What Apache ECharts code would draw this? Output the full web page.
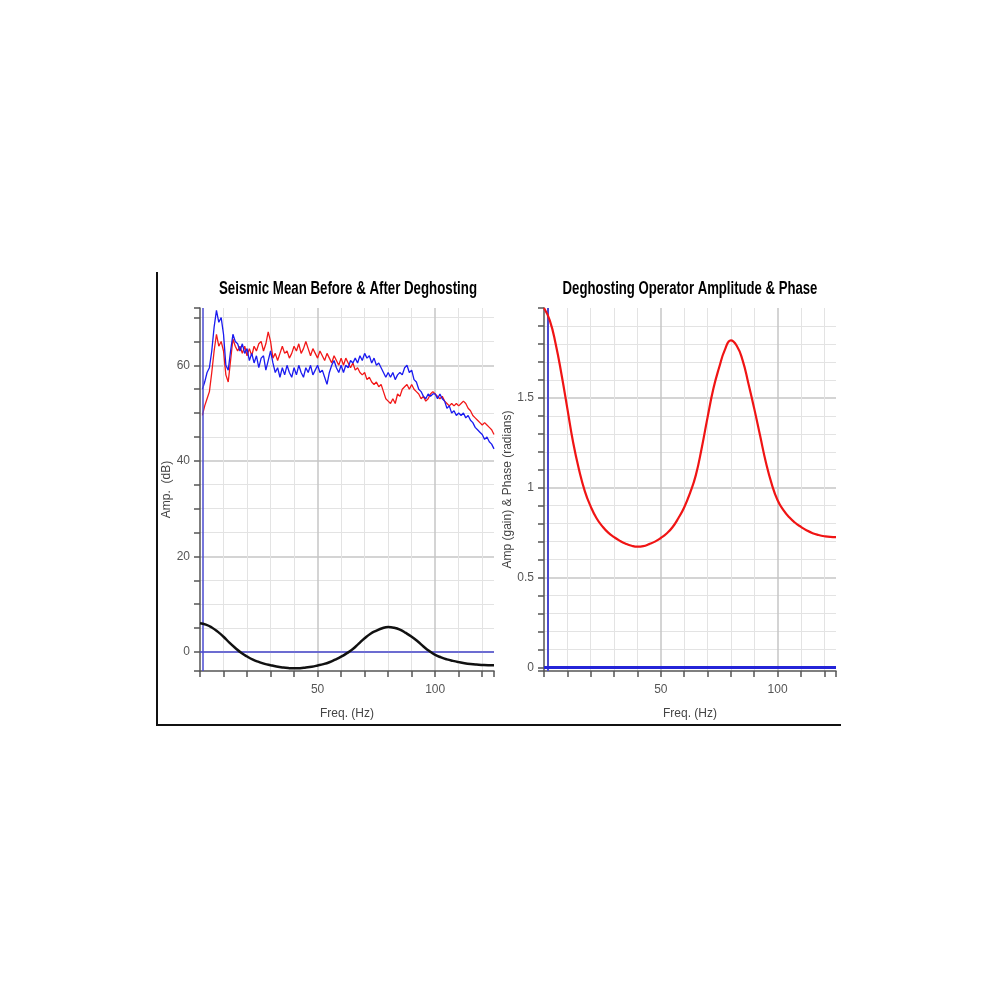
<!DOCTYPE html>
<html><head><meta charset="utf-8">
<script src="https://cdn.jsdelivr.net/npm/echarts@6/dist/echarts.min.js"></script>
<style>html,body{margin:0;padding:0;background:#fff}#c{width:1000px;height:1000px}</style>
</head><body><div id="c"></div>
<script>
// ---- data ----
// noisy spectra: one value per Hz, starting at 1 Hz
const spectrumStartHz = 1;
const redSpectrum = [
 49.5,51.5,53,54.5,58.5,63,66.5,64,65,63,
 58,56.5,61,65.5,64,63,64,62.5,64,62,
 63.5,62,64,63,64.5,65,63,64.5,67,65,
 61.5,62.5,61,62.5,64,62.5,63,61.5,62.5,64,
 63,64.5,62.5,63.5,65,63.5,62,63.5,62.5,61.5,
 63,62,61,62.5,61.5,60.5,62,61,60,61.5,
 60,61.5,60.5,59.5,60.5,59,59.5,58.5,58,58.5,
 57,57.5,56.5,56,56.5,55.5,56,54.5,53,52.5,
 52,53,52,54,53.5,55,55.5,56,55,56,
 55,54.5,54,53,53.5,52.5,53,54,54.5,54,
 53.5,53,53.5,52.5,52,51.5,52,51.5,52,51.5,
 52,52.5,52,51,50.5,49.5,49,48.5,48,47.5,
 48,47.5,47,46.5,45.5
];
const blueSpectrum = [
 55,56.5,58.5,59.5,63,68,71.5,69,70,66.5,
 60,59,63,66.5,65,64.5,63,64.5,62.5,63.5,
 61,62.5,60.5,62,59.5,61.5,62,59,61,63,
 60.5,58.5,59.5,57.5,59.5,58,60,58.5,57.5,59.5,
 58,60,58.5,57.5,59.5,58.5,60,58,59,60,
 58.5,59,57.5,56,58.5,60,61,59.5,58.5,60,
 58.5,60,59.5,61,60.5,61.5,60.5,62,61,62.5,
 61.5,62,60.5,61.5,60,60.5,59.5,58.5,57.5,58.5,
 57.5,58.5,57,58,58.5,58,59.5,60,58.5,59,
 57,56.5,55,54.5,53.5,53,54,53.5,54,54,
 53,54,53,52.5,51,51.5,50,50.5,49.5,50,
 49.5,50,49,49.5,48.5,48,47,46.5,46,45.5,
 44.5,45,44,43.5,42.5
];
// deghosting operator, every 2.5 Hz from 0 to 125
const opFreq = [0,2.5,5,7.5,10,12.5,15,17.5,20,22.5,25,27.5,30,32.5,35,37.5,40,42.5,45,47.5,50,52.5,55,57.5,60,62.5,65,67.5,70,72.5,75,77.5,80,82.5,85,87.5,90,92.5,95,97.5,100,102.5,105,107.5,110,112.5,115,117.5,120,122.5,125];
const opGain = [2.00,1.93,1.80,1.63,1.44,1.25,1.10,0.98,0.895,0.83,0.785,0.75,0.725,0.704,0.688,0.677,0.672,0.675,0.686,0.70,0.72,0.745,0.78,0.83,0.89,0.97,1.07,1.22,1.39,1.55,1.67,1.77,1.82,1.79,1.71,1.58,1.44,1.29,1.14,1.02,0.93,0.875,0.835,0.805,0.782,0.762,0.747,0.737,0.73,0.726,0.725];
const opGainDb = [6.02,5.71,5.11,4.24,3.17,1.94,0.83,-0.18,-0.96,-1.62,-2.10,-2.50,-2.79,-3.05,-3.25,-3.39,-3.45,-3.41,-3.27,-3.10,-2.85,-2.56,-2.16,-1.62,-1.01,-0.26,0.59,1.73,2.86,3.81,4.45,4.96,5.20,5.06,4.66,3.97,3.17,2.21,1.14,0.17,-0.63,-1.16,-1.57,-1.88,-2.14,-2.36,-2.53,-2.65,-2.73,-2.78,-2.79];
// tick labels
const xTickLabels = [50, 100];
const leftYTickLabels = [0, 20, 40, 60];
const rightYTickLabels = [0, 0.5, 1, 1.5];
const leftTitle = 'Seismic Mean Before & After Deghosting';
const rightTitle = 'Deghosting Operator Amplitude & Phase';

// ---- build ----
const toPairs = arr => arr.map((v, i) => [spectrumStartHz + i, v]);
const zip = (xs, ys) => xs.map((x, i) => [x, ys[i]]);

const AX = '#555';
const FONT = '"Liberation Sans", Arial, sans-serif';
function xAxisCfg(gi) {
  return {
    type: 'value', gridIndex: gi, min: 0, max: 125, interval: 50,
    axisLine: { show: true, onZero: false, lineStyle: { color: AX, width: 1.5 } },
    axisTick: { show: true, length: 6, lineStyle: { color: AX, width: 1.5 } },
    minorTick: { show: true, splitNumber: 5, length: 6, lineStyle: { color: AX, width: 1.5 } },
    axisLabel: { color: '#555', fontSize: 12, fontFamily: FONT, margin: 13,
      formatter: v => xTickLabels.includes(v) ? String(v) : '' },
    splitLine: { show: true, showMinLine: false, showMaxLine: false, lineStyle: { color: '#c6c6c6', width: 1.5 } },
    minorSplitLine: { show: true, lineStyle: { color: '#e3e3e3', width: 1 } },
    name: 'Freq. (Hz)', nameLocation: 'middle', nameGap: 37,
    nameTextStyle: { color: '#444', fontSize: 12, fontFamily: FONT }
  };
}
function yAxisCfg(gi, min, max, step, minorSplit, labels, name, gap) {
  return {
    type: 'value', gridIndex: gi, min: min, max: max, minInterval: step, maxInterval: step,
    axisLine: { show: true, onZero: false, lineStyle: { color: AX, width: 1.5 } },
    axisTick: { show: true, length: 6, lineStyle: { color: AX, width: 1.5 } },
    minorTick: { show: true, splitNumber: minorSplit, length: 6, lineStyle: { color: AX, width: 1.5 } },
    axisLabel: { color: '#555', fontSize: 12, fontFamily: FONT, margin: 10,
      formatter: v => labels.some(l => Math.abs(l - v) < 1e-9) ? String(v) : '' },
    splitLine: { show: true, showMinLine: false, showMaxLine: false, lineStyle: { color: '#c6c6c6', width: 1.5 } },
    minorSplitLine: { show: true, lineStyle: { color: '#e3e3e3', width: 1 } },
    name: name, nameLocation: 'middle', nameGap: gap,
    nameTextStyle: { color: '#444', fontSize: 12, fontFamily: FONT }
  };
}

const chart = echarts.init(document.getElementById('c'), null, { renderer: 'canvas' });
chart.setOption({
  animation: false,
  backgroundColor: '#fff',
  grid: [
    { left: 200, right: 506, top: 308, bottom: 329 },
    { left: 544, right: 164, top: 308, bottom: 329 }
  ],
  xAxis: [xAxisCfg(0), xAxisCfg(1)],
  yAxis: [
    yAxisCfg(0, -4, 72, 20, 4, leftYTickLabels, 'Amp.  (dB)', 21),
    yAxisCfg(1, -0.02, 2, 0.5, 5, rightYTickLabels, 'Amp (gain) & Phase (radians)', 24)
  ],
  series: [
    { type: 'line', xAxisIndex: 0, yAxisIndex: 0, data: toPairs(redSpectrum), showSymbol: false,
      lineStyle: { color: '#f21818', width: 1.3 }, z: 3 },
    { type: 'line', xAxisIndex: 0, yAxisIndex: 0, data: toPairs(blueSpectrum), showSymbol: false,
      lineStyle: { color: '#1a1af0', width: 1.3 }, z: 4 },
    { type: 'line', xAxisIndex: 0, yAxisIndex: 0, data: zip(opFreq, opGainDb), showSymbol: false, smooth: true,
      lineStyle: { color: '#111', width: 2.5 }, z: 5,
      markLine: { silent: true, symbol: 'none', label: { show: false },
        data: [
          { xAxis: 1, lineStyle: { color: '#4a4ad0', width: 1.5, type: 'solid' } },
          { yAxis: 0, lineStyle: { color: '#4a4ad0', width: 1.5, type: 'solid' } }
        ] } },
    { type: 'line', xAxisIndex: 1, yAxisIndex: 1, data: zip(opFreq, opGain), showSymbol: false, smooth: true,
      lineStyle: { color: '#f01414', width: 2.2 }, z: 5,
      markLine: { silent: true, symbol: 'none', label: { show: false },
        data: [
          { xAxis: 1.7, lineStyle: { color: '#4a4ad0', width: 2, type: 'solid' } },
          { yAxis: 0, lineStyle: { color: '#2424d8', width: 3, type: 'solid' } }
        ] } }
  ],
  graphic: [
    { type: 'text', x: 348, y: 289, scaleX: 0.737, z: 10,
      style: { text: leftTitle, font: 'bold 18px ' + FONT, fill: '#000', align: 'center', verticalAlign: 'middle' } },
    { type: 'text', x: 690, y: 289, scaleX: 0.73, z: 10,
      style: { text: rightTitle, font: 'bold 18px ' + FONT, fill: '#000', align: 'center', verticalAlign: 'middle' } },
    { type: 'line', shape: { x1: 157, y1: 272, x2: 157, y2: 726 }, style: { stroke: '#111', lineWidth: 2 } },
    { type: 'line', shape: { x1: 156, y1: 725, x2: 841, y2: 725 }, style: { stroke: '#111', lineWidth: 2 } }
  ]
});
</script>
</body></html>
